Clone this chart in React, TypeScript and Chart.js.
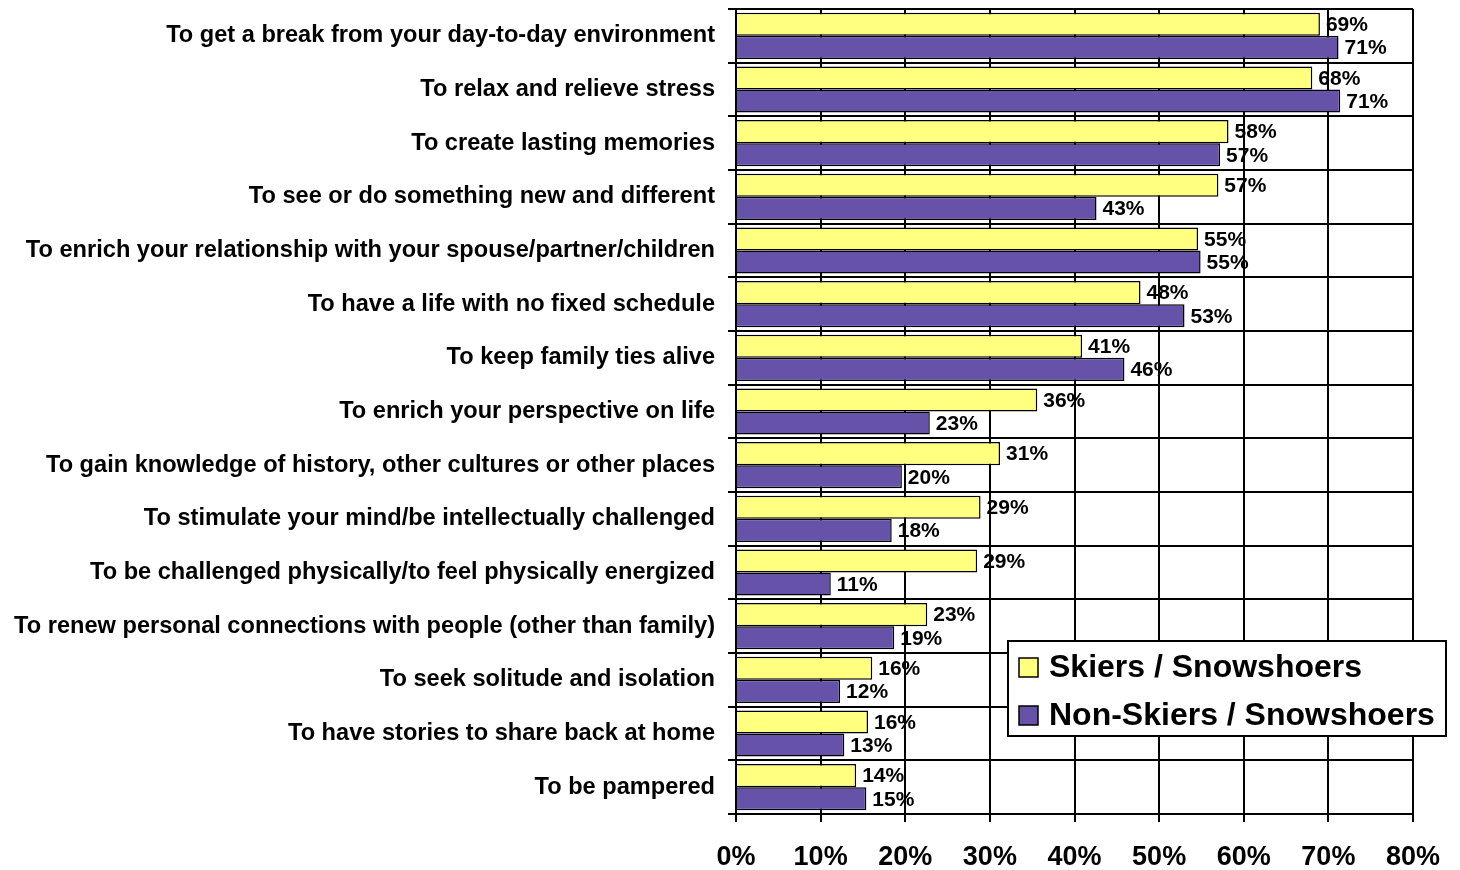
import React, { useEffect, useRef } from "react";
import { Chart, registerables } from "chart.js";

Chart.register(...registerables);

const categories = [
  "To get a break from your day-to-day environment",
  "To relax and relieve stress",
  "To create lasting memories",
  "To see or do something new and different",
  "To enrich your relationship with your spouse/partner/children",
  "To have a life with no fixed schedule",
  "To keep family ties alive",
  "To enrich your perspective on life",
  "To gain knowledge of history, other cultures or other places",
  "To stimulate your mind/be intellectually challenged",
  "To be challenged physically/to feel physically energized",
  "To renew personal connections with people (other than family)",
  "To seek solitude and isolation",
  "To have stories to share back at home",
  "To be pampered",
];

const skiers = [69, 68.1, 58.2, 57, 54.6, 47.8, 40.9, 35.6, 31.2, 28.9, 28.5, 22.6, 16.1, 15.6, 14.2];
const nonSkiers = [71.2, 71.4, 57.2, 42.6, 54.9, 53, 45.9, 22.9, 19.6, 18.4, 11.2, 18.7, 12.3, 12.8, 15.4];

const seriesNames = ["Skiers / Snowshoers", "Non-Skiers / Snowshoers"];
const seriesColors = ["#FFFF80", "#6652A8"];
const xTickLabels = ["0%", "10%", "20%", "30%", "40%", "50%", "60%", "70%", "80%"];

const FONT = "'Liberation Sans', Arial, Helvetica, sans-serif";

const valueLabelPlugin = {
  id: "valueLabels",
  afterDatasetsDraw(chart: any) {
    const ctx = chart.ctx;
    ctx.save();
    ctx.font = `bold 21px ${FONT}`;
    ctx.fillStyle = "#000";
    ctx.textAlign = "left";
    ctx.textBaseline = "middle";
    chart.data.datasets.forEach((ds: any, di: number) => {
      const meta = chart.getDatasetMeta(di);
      meta.data.forEach((bar: any, i: number) => {
        ctx.fillText(Math.round(ds.data[i]) + "%", bar.x + 6, bar.y + 1);
      });
    });
    ctx.restore();
  },
};

const boxLegendPlugin = {
  id: "boxLegend",
  afterDraw(chart: any) {
    const ctx = chart.ctx;
    const area = chart.chartArea;
    const left = area.right - 405;
    const top = area.bottom - 173;
    const w = 438;
    const h = 95;
    ctx.save();
    ctx.fillStyle = "#fff";
    ctx.fillRect(left, top, w, h);
    ctx.strokeStyle = "#000";
    ctx.lineWidth = 2;
    ctx.strokeRect(left, top, w, h);
    ctx.font = `bold 32px ${FONT}`;
    ctx.textAlign = "left";
    ctx.textBaseline = "middle";
    chart.data.datasets.forEach((ds: any, di: number) => {
      const cy = top + 26 + di * 48;
      ctx.fillStyle = ds.backgroundColor;
      ctx.fillRect(left + 11, cy - 9, 19, 19);
      ctx.lineWidth = 1.5;
      ctx.strokeStyle = "#000";
      ctx.strokeRect(left + 11, cy - 9, 19, 19);
      ctx.fillStyle = "#000";
      ctx.fillText(ds.label, left + 41, cy + 1);
    });
    ctx.restore();
  },
};

export default function App() {
  const ref = useRef<HTMLCanvasElement | null>(null);

  useEffect(() => {
    if (!ref.current) return;
    const chart = new Chart(ref.current, {
      type: "bar",
      data: {
        labels: categories,
        datasets: [
          {
            label: seriesNames[0],
            data: skiers,
            backgroundColor: seriesColors[0],
            borderColor: "#000",
            borderWidth: 1.5,
            categoryPercentage: 0.86,
            barPercentage: 1,
          },
          {
            label: seriesNames[1],
            data: nonSkiers,
            backgroundColor: seriesColors[1],
            borderColor: "#000",
            borderWidth: 1.5,
            categoryPercentage: 0.86,
            barPercentage: 1,
          },
        ],
      },
      options: {
        indexAxis: "y",
        animation: false,
        responsive: false,
        devicePixelRatio: 1,
        layout: { padding: { top: 9, right: 47, left: 0, bottom: 0 } },
        plugins: {
          legend: { display: false },
          tooltip: { enabled: false },
        },
        scales: {
          x: {
            min: 0,
            max: 80,
            ticks: {
              stepSize: 10,
              color: "#000",
              padding: 19,
              maxRotation: 0,
              font: { family: FONT, size: 27, weight: "bold" },
              callback: (_v: any, i: number) => xTickLabels[i],
            },
            grid: { color: "#000", lineWidth: 2, tickLength: 8 },
            border: { display: true, color: "#000", width: 2 },
            afterFit: (s: any) => {
              s.height = 56;
              s.paddingLeft = 0;
              s.paddingRight = 0;
            },
          },
          y: {
            ticks: {
              color: "#000",
              padding: 13,
              autoSkip: false,
              font: { family: FONT, size: 23.6, weight: "bold" },
            },
            grid: { color: "#000", lineWidth: 2, tickLength: 8, offset: true },
            border: { display: true, color: "#000", width: 2 },
            afterFit: (s: any) => {
              s.width = 736;
              s.paddingTop = 0;
              s.paddingBottom = 0;
            },
          },
        },
      },
      plugins: [valueLabelPlugin, boxLegendPlugin],
    } as any);
    return () => chart.destroy();
  }, []);

  return (
    <div style={{ position: "fixed", left: 0, top: 0, width: 1460, height: 870, background: "#fff" }}>
      <canvas ref={ref} width={1460} height={870} style={{ width: 1460, height: 870, display: "block" }} />
    </div>
  );
}
